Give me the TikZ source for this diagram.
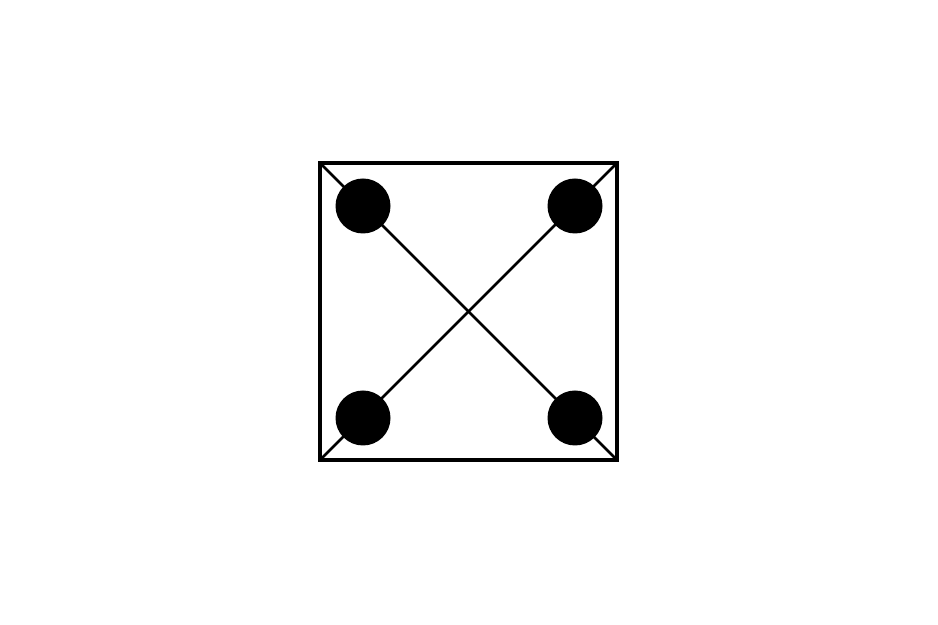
\documentclass[tikz,border=0pt]{standalone}
\begin{document}
\begin{tikzpicture}[x=0.5pt,y=-0.5pt,
  frame/.style={draw=black,line width=1.6pt},
  diag/.style={draw=black,line width=1.4pt},
  dot/.style={circle,fill=black,minimum size=27.5pt,inner sep=0pt}]
\useasboundingbox (0,0) rectangle (938,625);
\coordinate (tl) at (320,163);
\coordinate (tr) at (617,163);
\coordinate (bl) at (320,460);
\coordinate (br) at (617,460);
\draw[frame] (tl) rectangle (br);
\draw[diag] (tl) -- (br);
\draw[diag] (tr) -- (bl);
\node[dot] (a) at (363,206) {};
\node[dot] (b) at (575,206) {};
\node[dot] (c) at (363,418) {};
\node[dot] (d) at (575,418) {};
\end{tikzpicture}
\end{document}
